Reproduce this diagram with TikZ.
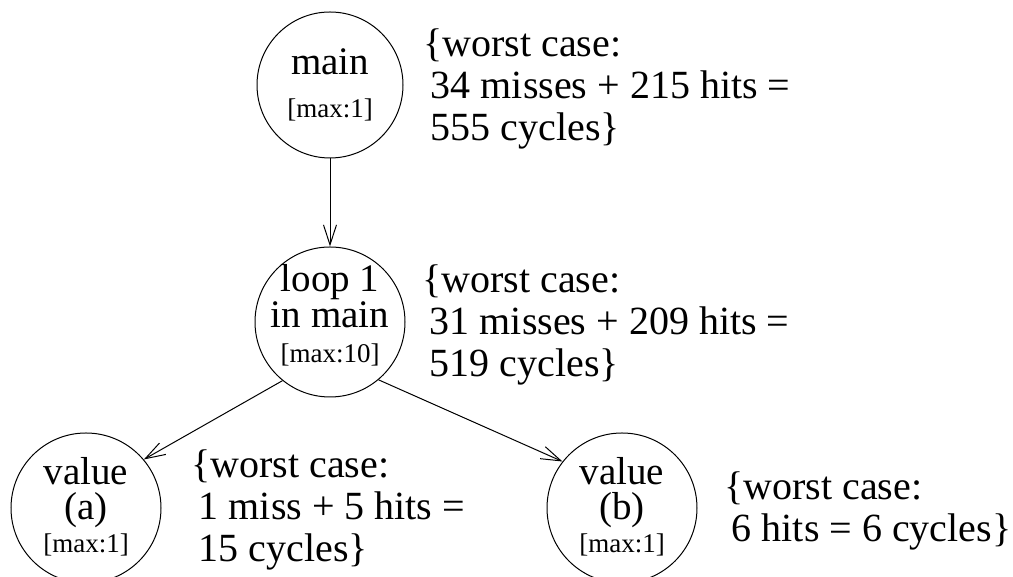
\documentclass[tikz,border=0pt]{standalone}
\usepackage{fontspec}
\setmainfont{Liberation Serif}
\usetikzlibrary{arrows.meta}

% Multi-line annotation text, 42pt from line to line
\newcommand\notelines[1]{\fontsize{40}{42}\selectfont\begin{tabular}[t]{@{}l@{}}#1\end{tabular}}
\newcommand\ind{\hspace*{0.19em}}

\tikzset{
  state/.style={circle, draw, line width=1pt, minimum size=150pt, inner sep=0pt},
  big/.style={anchor=base, inner sep=0pt, font=\fontsize{39}{42}\selectfont},
  small/.style={anchor=base, inner sep=0pt, font=\fontsize{27}{30}\selectfont},
  note/.style={anchor=base west, inner sep=0pt},
  edge/.style={line width=1pt, -{Straight Barb[length=20pt,width=13pt]}}
}

\begin{document}
\begin{tikzpicture}[x=1pt, y=1pt]
  \useasboundingbox (0,0) rectangle (1013,577);

  % call-graph nodes
  \node[state, minimum size=146pt] (main) at (330,492) {};
  \node[state] (loop) at (330,255) {};
  \node[state] (va) at (86,69) {};
  \node[state] (vb) at (622,69) {};

  % labels inside the nodes
  \node[big]   (mainname) at ([yshift=10pt]main.center)  {main};
  \node[small] (mainmax)  at ([yshift=-33pt]main.center) {[max:1]};

  \node[big]   (loopname) at ([yshift=30pt]loop.center)  {loop 1};
  \node[big]   (loopin)   at ([yshift=-6pt]loop.center)  {in main};
  \node[small] (loopmax)  at ([yshift=-41pt]loop.center) {[max:10]};

  \node[big]   (vaname) at ([yshift=23pt]va.center)  {value};
  \node[big]   (vatag)  at ([yshift=-12pt]va.center) {(a)};
  \node[small] (vamax)  at ([yshift=-45pt]va.center) {[max:1]};

  \node[big]   (vbname) at ([yshift=23pt]vb.center)  {value};
  \node[big]   (vbtag)  at ([yshift=-12pt]vb.center) {(b)};
  \node[small] (vbmax)  at ([yshift=-45pt]vb.center) {[max:1]};

  % call edges
  \draw[edge] (main.south) -- (loop.north);
  \draw[edge] (loop.231) -- (va.40);
  \draw[edge] (loop.310) -- (vb.142);

  % worst-case annotations
  \node[note] (wmain) at (423,520) {\notelines{\{worst case:\\ \ind 34 misses + 215 hits =\\ \ind 555 cycles\}}};
  \node[note] (wloop) at (422,284) {\notelines{\{worst case:\\ \ind 31 misses + 209 hits =\\ \ind 519 cycles\}}};
  \node[note] (wva)   at (191,99)  {\notelines{\{worst case:\\ \ind 1 miss + 5 hits =\\ \ind 15 cycles\}}};
  \node[note] (wvb)   at (724,77)  {\notelines{\{worst case:\\ \ind 6 hits = 6 cycles\}}};
\end{tikzpicture}
\end{document}
